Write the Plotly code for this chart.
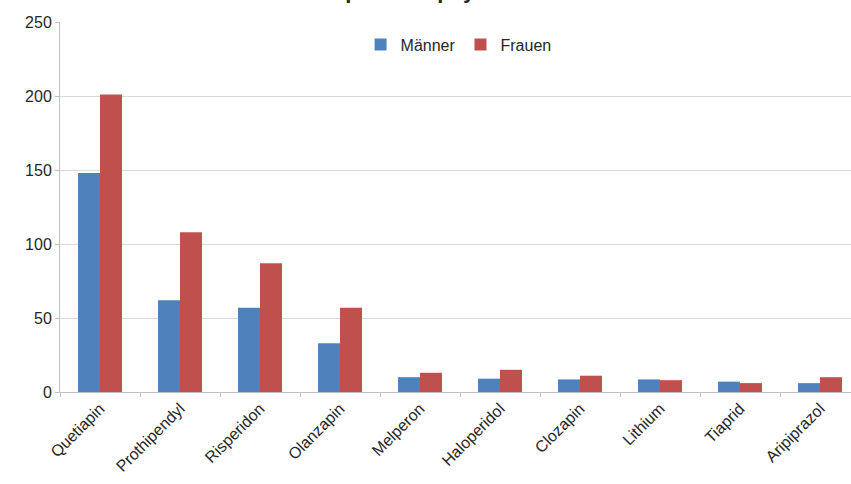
import plotly.graph_objects as go

# Verordnungen nach Wirkstoff und Geschlecht
wirkstoffe = ["Quetiapin", "Prothipendyl", "Risperidon", "Olanzapin", "Melperon",
              "Haloperidol", "Clozapin", "Lithium", "Tiaprid", "Aripiprazol"]
maenner = [148, 62, 57, 33, 10, 9, 8.5, 8.5, 7, 6]
frauen = [201, 108, 87, 57, 13, 15, 11, 8, 6, 10]
y_ticks = [0, 50, 100, 150, 200, 250]

W, H = 851, 484
ML, MR, MT, MB = 60, 0, 22, 92
plot_w = W - ML - MR
cat_px = 80  # width of one category slot

font = "Liberation Sans, Arial, Helvetica, sans-serif"

fig = go.Figure()
fig.add_trace(go.Bar(x=wirkstoffe, y=maenner, name="Männer",
                     marker=dict(color="#4F81BD", line=dict(width=0))))
fig.add_trace(go.Bar(x=wirkstoffe, y=frauen, name="Frauen",
                     marker=dict(color="#C0504D", line=dict(width=0))))

fig.update_layout(
    width=W, height=H,
    margin=dict(l=ML, r=MR, t=MT, b=MB),
    paper_bgcolor="white", plot_bgcolor="white",
    barmode="group", bargap=0.45, bargroupgap=0,
    font=dict(family=font, size=15, color="#262626"),
    showlegend=True,
    legend=dict(orientation="h", x=0.38, y=0.985, xanchor="left", yanchor="top",
                font=dict(size=16, color="#262626"), itemwidth=30,
                traceorder="normal", bgcolor="rgba(0,0,0,0)"),
    annotations=[dict(
        text="<b>Top 10 Antipsychotika</b>", xref="paper", yref="paper",
        x=(318 - ML) / plot_w, y=(H - MB - 5) / (H - MT - MB),
        xanchor="left", yanchor="bottom", showarrow=False,
        font=dict(size=22, color="#262626", family=font))],
)

fig.update_xaxes(
    type="category",
    range=[-0.5, -0.5 + plot_w / cat_px],
    tickangle=-45, tickfont=dict(size=16, color="#262626"),
    showline=True, linecolor="#bfbfbf", linewidth=1,
    ticks="outside", tickson="boundaries", ticklen=4, tickcolor="#bfbfbf",
    showgrid=False, zeroline=False,
)
fig.update_yaxes(
    range=[0, 250], tickvals=y_ticks,
    tickfont=dict(size=16, color="#262626"),
    showgrid=True, gridcolor="#d9d9d9", gridwidth=1,
    showline=True, linecolor="#bfbfbf", linewidth=1,
    ticks="outside", ticklen=4, tickcolor="#bfbfbf",
    zeroline=False,
)

fig.write_html("out.html")
